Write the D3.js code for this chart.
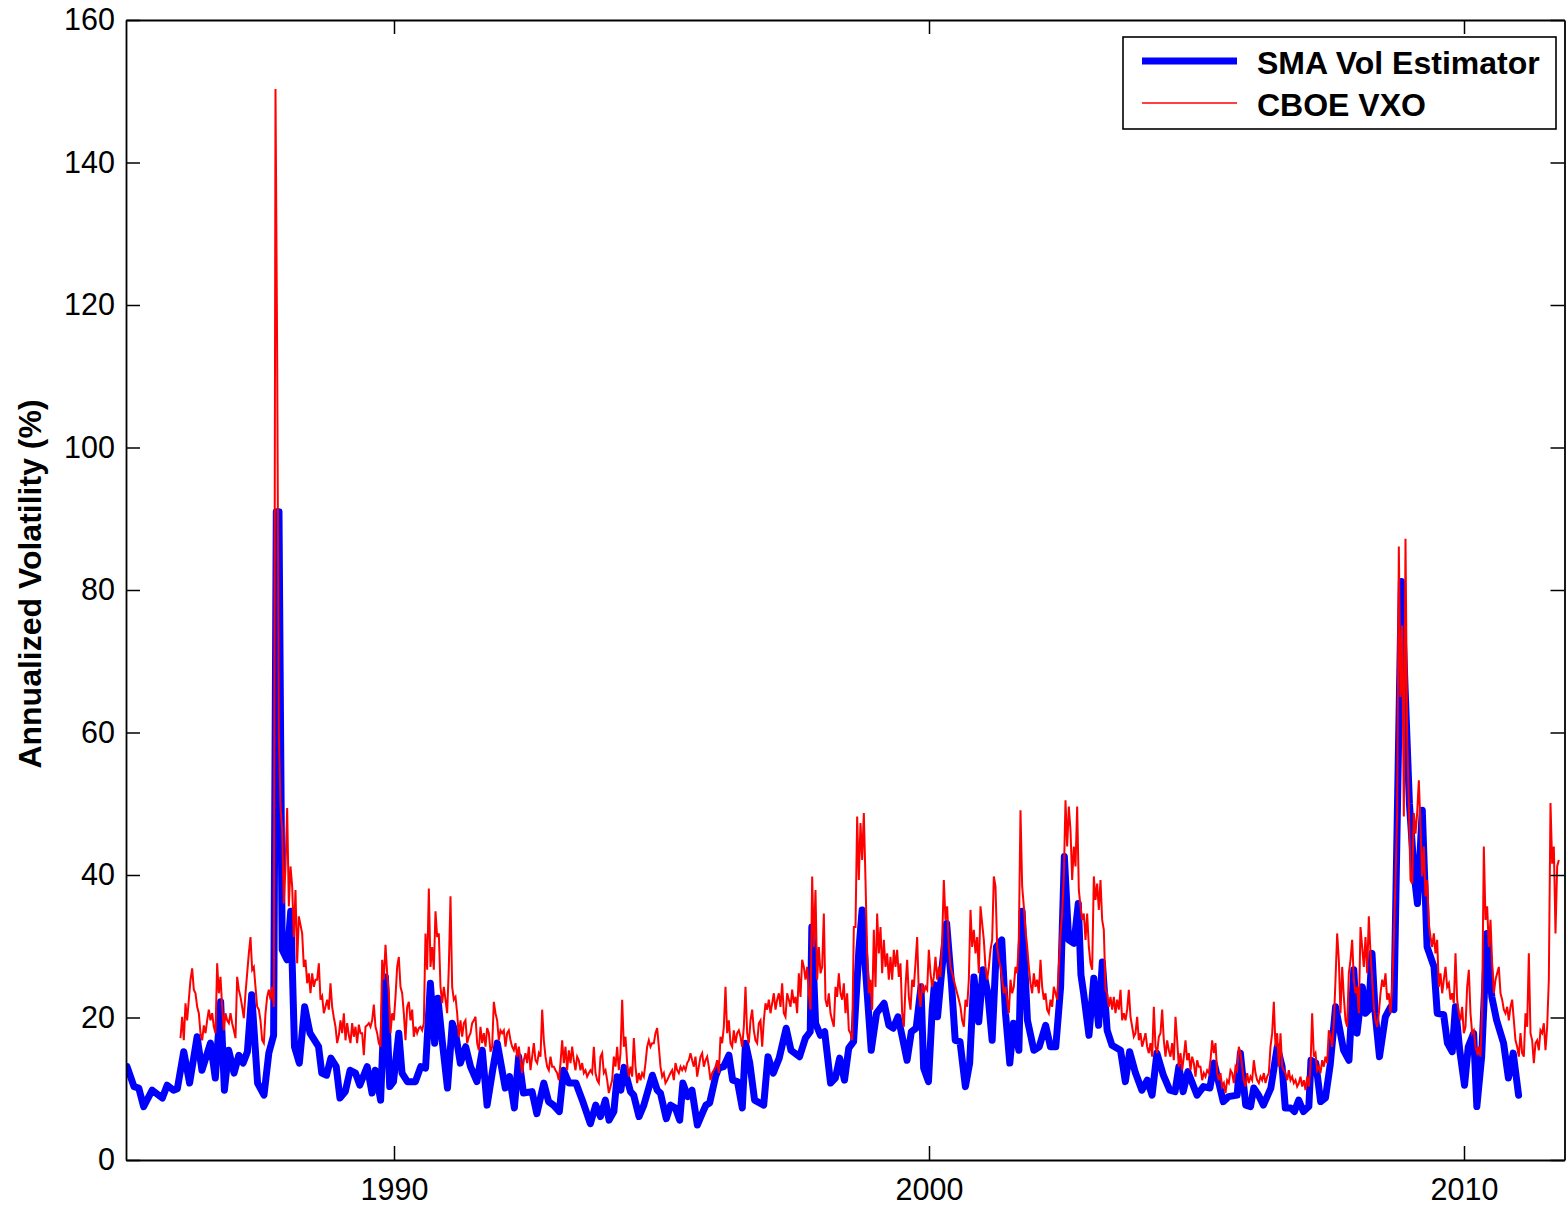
<!DOCTYPE html>
<html>
<head>
<meta charset="utf-8">
<script src="https://cdn.jsdelivr.net/npm/d3@7"></script>
<style>
  html, body { margin: 0; padding: 0; background: #fff; }
  svg { display: block; }
  text { font-family: "Liberation Sans", Arial, Helvetica, sans-serif; }
</style>
</head>
<body>
<svg id="chart" width="1566" height="1205"></svg>
<script>
// ---------- DATA ----------
const seriesNames = ["SMA Vol Estimator", "CBOE VXO"];
const yTickValues = [0, 20, 40, 60, 80, 100, 120, 140, 160];
const xTickValues = [1990, 2000, 2010];
const xTickLabels = ["1990", "2000", "2010"];

// SMA volatility estimator (decimal year, annualized vol %)
const smaYears = [
  1985.01,1985.14,1985.23,1985.32,1985.48,1985.67,1985.76,1985.88,1985.95,
  1986.07,1986.18,1986.32,1986.41,1986.57,1986.66,1986.76,1986.83,1986.91,
  1987.01,1987.10,1987.18,1987.26,1987.34,1987.45,1987.57,1987.66,1987.75,1987.80,1987.85,1987.91,
  1988.00,1988.07,1988.14,1988.23,1988.33,1988.43,1988.59,1988.65,1988.74,1988.82,1988.92,1988.99,
  1989.09,1989.18,1989.28,1989.36,1989.50,1989.59,1989.65,1989.75,1989.84,1989.92,1989.99,
  1990.09,1990.15,1990.25,1990.40,1990.50,1990.59,1990.68,1990.76,1990.82,1990.90,
  1991.00,1991.09,1991.15,1991.24,1991.34,1991.43,1991.55,1991.65,1991.74,1991.84,1991.93,
  1992.08,1992.16,1992.25,1992.33,1992.42,1992.58,1992.67,1992.80,1992.89,1992.98,
  1993.09,1993.17,1993.27,1993.40,1993.52,1993.67,1993.77,1993.86,1993.95,
  1994.02,1994.11,1994.17,1994.24,1994.30,1994.42,1994.48,1994.58,1994.67,1994.83,1994.92,1994.98,
  1995.09,1995.17,1995.26,1995.34,1995.40,1995.49,1995.57,1995.67,1995.76,1995.83,1995.90,
  1996.01,1996.07,1996.16,1996.26,1996.33,1996.42,1996.51,1996.57,1996.65,1996.74,1996.91,1996.99,
  1997.09,1997.20,1997.33,1997.42,1997.58,1997.69,1997.78,1997.81,1997.88,1997.97,
  1998.05,1998.16,1998.25,1998.33,1998.42,1998.50,1998.59,1998.69,1998.75,1998.81,1998.92,
  1999.02,1999.16,1999.25,1999.33,1999.42,1999.50,1999.59,1999.67,1999.76,1999.85,1999.90,1999.99,
  2000.06,2000.10,2000.16,2000.24,2000.33,2000.42,2000.49,2000.58,2000.68,2000.76,2000.84,2000.93,
  2001.01,2001.10,2001.18,2001.26,2001.36,2001.43,2001.51,2001.58,2001.68,2001.74,2001.84,2001.96,
  2002.06,2002.18,2002.27,2002.37,2002.46,2002.53,2002.61,2002.71,2002.79,2002.84,2002.89,2002.99,
  2003.08,2003.17,2003.24,2003.33,2003.42,2003.58,2003.67,2003.75,2003.86,2003.98,
  2004.08,2004.17,2004.26,2004.38,2004.50,2004.60,2004.67,2004.75,2004.84,
  2005.01,2005.13,2005.25,2005.33,2005.39,2005.50,2005.60,2005.76,2005.82,2005.92,
  2006.01,2006.07,2006.16,2006.25,2006.39,2006.51,2006.60,2006.66,2006.76,2006.83,2006.91,
  2007.00,2007.10,2007.14,2007.23,2007.32,2007.41,2007.50,2007.60,2007.69,2007.75,2007.85,2007.94,
  2008.00,2008.10,2008.16,2008.22,2008.28,2008.34,2008.42,2008.53,2008.63,2008.69,2008.83,2008.90,2008.98,
  2009.07,2009.13,2009.22,2009.31,2009.44,2009.50,2009.62,2009.69,2009.78,2009.84,2009.92,
  2010.01,2010.08,2010.18,2010.24,2010.33,2010.43,2010.52,2010.61,2010.74,2010.83,2010.92,2011.02
];
const smaValues = [
  13.1,10.3,10.1,7.5,9.8,8.7,10.5,9.8,10.0,
  15.2,10.8,17.3,12.6,16.4,11.5,22.2,9.8,15.4,
  12.2,14.7,13.6,15.2,23.2,10.8,9.1,15.0,17.5,91.0,91.0,29.5,
  28.1,34.9,15.9,13.6,21.5,17.8,15.9,12.2,11.9,14.3,13.1,8.7,
  9.6,12.6,12.2,10.5,13.1,9.4,12.6,8.4,25.7,10.3,11.0,
  17.8,12.2,11.0,11.0,13.1,12.9,24.8,16.4,22.7,16.8,
  10.1,19.2,17.8,13.6,15.9,13.1,11.0,15.4,7.7,12.4,16.4,
  10.1,11.7,7.3,14.5,9.4,9.6,6.5,10.8,8.2,7.7,
  6.8,12.6,10.8,10.8,8.4,5.1,7.7,6.1,8.4,
  5.6,6.8,11.7,9.8,13.0,9.6,9.1,6.1,7.7,11.9,9.8,9.4,
  5.8,7.7,7.3,5.6,10.8,8.9,9.8,4.9,6.5,7.7,8.0,
  11.7,12.9,13.1,14.7,11.2,11.0,7.3,16.4,13.6,8.4,7.7,14.5,
  12.2,14.3,18.5,15.4,14.5,17.1,18.0,32.7,19.2,17.5,
  18.0,10.8,11.5,14.3,11.2,15.7,16.6,29.5,35.1,27.1,15.4,
  20.6,22.0,18.9,18.5,20.1,17.3,14.0,18.0,18.5,24.3,12.9,11.0,
  21.1,24.6,20.1,26.7,33.2,24.8,16.8,16.6,10.3,13.6,25.7,19.4,
  26.7,23.4,16.8,29.9,30.9,20.6,13.6,19.2,15.4,34.9,19.6,15.4,
  15.9,18.9,15.9,15.9,24.3,42.6,30.9,30.4,36.0,26.0,23.4,17.5,
  25.5,18.9,27.8,18.2,16.1,15.4,11.0,15.2,12.2,9.8,
  11.2,9.1,15.0,11.9,9.8,9.6,13.1,9.6,12.4,
  9.1,10.3,10.1,13.6,11.7,8.2,8.9,9.1,15.0,7.7,
  7.5,10.1,9.1,7.7,10.1,15.9,13.1,7.3,7.3,6.8,8.4,
  6.8,7.5,14.0,13.6,8.2,8.7,13.4,21.5,17.8,15.4,14.0,26.7,
  17.8,24.3,20.6,21.1,29.0,20.6,14.5,20.1,21.5,21.1,81.2,66.0,50.0,
  40.0,36.0,49.1,29.9,27.1,20.6,20.4,16.4,15.2,21.5,15.4,
  10.5,15.9,17.8,7.5,14.5,31.8,22.9,19.6,16.4,11.5,15.0,9.1
];

// CBOE VXO, sampled about every 11 days from early 1986
const vxoStart = 1986.0093;
const vxoStep = 0.0311526;
const vxoValues = [
  // 1986 - 1989.4
  17.1,20.1,16.8,22.0,19.6,22.5,25.3,26.9,23.9,23.4,
  21.5,20.6,17.8,16.8,18.9,17.8,19.6,21.1,19.6,20.6,
  18.7,17.8,27.6,23.4,25.7,21.5,18.2,20.6,19.6,19.2,
  20.6,19.2,18.2,17.1,25.7,23.9,22.9,21.5,19.9,23.4,
  26.2,29.0,31.3,26.7,27.1,24.3,21.5,21.1,19.6,16.8,
  16.4,20.6,22.9,23.9,22.5,24.3,21.5,150.3,113.0,60.0,
  49.6,46.3,36.0,41.2,49.4,35.6,41.2,38.4,31.3,37.9,
  27.6,34.2,33.0,31.8,27.1,28.1,24.8,26.2,23.4,26.2,
  24.3,25.3,25.3,27.6,22.5,23.0,20.6,21.5,22.5,21.1,
  24.8,21.5,20.0,18.7,16.4,17.5,19.6,17.8,20.6,16.8,
  19.2,17.5,16.4,19.2,17.3,18.7,16.4,19.0,17.8,17.8,
  14.7,18.7,18.9,19.2,
  // 1989.4 - 1993.9
  18.7,19.6,21.8,18.7,17.8,16.4,15.9,28.1,25.3,30.2,
  26.2,23.4,17.8,20.6,19.6,22.9,27.1,28.5,24.3,23.4,
  20.6,16.8,21.5,22.2,19.6,21.1,17.3,18.7,17.8,18.5,
  18.7,18.2,19.2,31.8,26.7,38.1,27.1,29.9,26.7,34.9,
  31.3,31.8,24.3,22.0,24.3,22.5,20.6,27.1,37.0,24.3,
  22.5,22.9,20.6,17.3,19.6,17.3,19.2,19.6,16.4,17.3,
  17.8,19.2,19.6,20.1,16.4,15.4,18.7,16.4,17.8,15.9,
  18.5,17.8,15.2,15.9,22.2,20.6,19.6,16.8,18.2,17.8,
  18.2,15.9,17.8,18.2,16.8,15.9,15.4,16.4,14.5,15.9,
  14.0,12.2,14.0,15.0,13.6,15.9,12.6,14.5,16.4,14.0,
  13.6,15.0,14.5,21.1,16.8,14.5,13.1,12.6,14.5,13.1,
  13.1,12.6,12.2,11.2,13.6,16.8,13.6,15.9,12.6,15.4,
  13.6,15.9,14.0,12.6,14.5,14.0,12.6,13.6,12.2,12.6,
  11.7,12.2,12.6,12.2,15.9,12.2,11.2,10.8,14.5,15.0,
  12.2,12.6,11.2,9.4,
  // 1993.9 - 1998.4
  10.3,11.2,14.5,13.1,15.9,12.6,15.0,22.5,15.9,17.3,
  13.6,11.7,13.1,11.7,17.1,13.1,10.8,12.2,11.2,12.2,
  11.7,13.6,15.9,16.8,15.9,16.4,16.4,17.8,18.5,15.9,
  13.1,11.7,12.2,10.8,11.2,11.7,12.2,12.6,11.2,13.6,
  12.6,12.2,13.1,12.6,13.1,12.6,13.6,14.0,15.0,14.0,
  13.1,14.5,11.7,13.1,14.5,15.0,13.1,14.0,14.5,13.1,
  11.2,12.2,12.6,13.1,14.0,12.2,17.3,16.4,18.7,24.3,
  17.8,19.6,16.4,15.9,18.2,16.4,17.8,18.2,17.3,15.9,
  18.7,24.3,17.8,16.4,19.6,21.1,18.2,16.8,16.4,19.2,
  19.6,15.9,19.6,22.0,21.1,22.5,20.6,22.0,23.4,21.1,
  22.5,23.4,21.5,24.8,20.6,20.1,23.4,22.5,21.5,23.9,
  22.0,22.9,20.6,26.2,22.9,28.1,27.1,25.3,27.1,23.4,
  21.1,39.8,29.9,37.9,25.3,29.9,26.2,27.1,34.6,22.5,
  21.5,23.4,20.6,19.6,18.7,24.3,22.9,26.2,23.4,22.5,
  24.8,20.6,23.4,18.2,
  // 1998.4 - 2002.9
  17.8,16.8,32.7,32.7,48.2,39.3,47.3,42.1,48.7,39.3,
  29.0,23.4,25.3,21.1,32.3,24.3,34.6,29.0,32.7,26.2,
  30.9,27.1,29.0,25.3,28.5,25.3,29.5,27.1,29.5,25.7,
  27.6,20.6,18.7,24.3,28.1,22.9,21.1,25.3,24.3,27.6,
  31.3,23.4,21.5,24.8,23.4,24.3,23.9,29.5,26.2,24.3,
  25.7,28.5,25.3,27.1,25.7,30.9,39.3,33.7,35.6,29.9,
  27.1,26.2,25.3,24.3,23.4,22.5,21.5,19.6,18.7,22.5,
  21.5,25.3,35.1,29.9,32.3,29.0,31.3,26.2,35.6,33.2,
  30.9,27.1,25.3,27.1,29.5,30.9,39.8,38.4,29.9,28.1,
  27.1,25.3,23.4,24.3,22.5,20.6,25.3,23.4,24.3,27.1,
  26.2,30.9,49.1,38.4,35.6,32.3,29.9,27.1,24.8,23.4,
  26.2,24.3,25.3,23.4,28.1,24.3,22.5,23.4,21.1,20.6,
  22.5,21.5,24.3,23.4,22.5,27.1,31.8,34.6,39.8,50.5,
  44.0,49.6,46.3,39.3,44.0,41.2,49.6,37.9,35.6,33.7,
  34.6,30.9,34.6,29.9,
  // 2002.9 - 2007.4
  27.6,26.7,39.8,36.5,38.8,35.1,39.3,33.7,32.3,23.9,
  23.4,21.5,22.9,21.1,22.9,20.6,22.5,21.1,23.9,19.6,
  20.6,19.6,21.1,23.9,20.1,18.7,17.3,17.8,20.1,16.8,
  17.8,15.9,16.8,17.8,15.9,15.0,16.4,14.5,21.5,15.9,
  15.0,17.3,17.8,21.1,16.8,14.5,16.8,15.4,14.5,16.4,
  14.0,20.1,16.8,13.1,15.0,12.6,14.5,16.8,14.0,15.0,
  12.6,14.5,13.6,11.7,14.0,13.1,13.1,11.2,12.2,11.7,
  12.6,12.2,14.0,16.8,15.0,16.4,12.2,11.2,12.2,10.3,
  10.8,9.4,11.2,10.8,12.6,12.2,10.8,13.1,12.6,15.9,
  15.0,13.1,11.2,10.3,12.2,10.8,11.7,11.2,14.0,12.2,
  11.2,10.8,11.7,11.2,12.2,10.8,11.7,12.2,15.9,17.8,
  22.2,15.9,17.8,13.1,17.8,13.1,12.6,12.2,11.2,12.6,
  11.2,11.7,10.8,11.2,10.3,10.8,11.7,10.3,11.2,9.8,
  11.7,10.3,13.1,20.6,14.5,15.0,12.6,13.1,12.2,14.0,
  13.1,14.5,13.6,18.2,
  // 2007.4 - 2011.8
  17.3,15.9,19.2,25.3,31.8,28.1,20.6,27.1,22.9,19.6,
  18.7,26.2,28.1,30.9,25.3,23.4,24.3,20.6,32.7,29.9,
  27.1,31.3,26.2,34.2,29.0,25.3,21.5,19.6,18.7,20.6,
  23.4,25.3,24.3,26.2,22.5,23.4,20.6,24.3,30.9,39.3,
  48.7,86.1,65.0,75.0,48.2,87.2,59.4,50.0,39.3,38.8,
  48.7,45.8,48.7,53.3,46.8,39.8,44.0,37.0,39.3,33.2,
  31.3,29.9,31.8,29.0,30.9,24.3,26.2,23.4,25.3,27.1,
  24.3,24.8,22.5,23.4,22.0,29.0,22.5,20.6,19.6,21.5,
  17.8,18.7,24.3,26.7,20.6,17.8,18.2,15.9,15.0,15.9,
  14.5,21.5,44.0,33.7,35.6,29.9,33.7,27.6,23.4,25.3,
  26.2,27.1,23.4,22.5,21.1,20.6,21.5,19.6,21.5,22.5,
  19.6,16.8,15.9,14.5,17.8,15.0,14.5,20.6,18.7,29.0,
  17.8,16.8,13.6,16.4,16.8,15.4,18.2,17.8,19.2,15.4,
  18.7,25.3,50.1,41.6,44.0,31.8,41.2,42.1
];

// ---------- CHART ----------
const plot = { left: 126, right: 1564.5, top: 20, bottom: 1160 };

const svg = d3.select("#chart");

const x = d3.scaleLinear().domain([1984.9907, 2011.8785]).range([plot.left, plot.right]);
const y = d3.scaleLinear().domain([0, 160]).range([plot.bottom, plot.top]);

svg.append("defs").append("clipPath").attr("id", "clip")
  .append("rect")
  .attr("x", plot.left).attr("y", plot.top)
  .attr("width", plot.right - plot.left).attr("height", plot.bottom - plot.top);

const smaData = smaYears.map((t, i) => ({ t, v: smaValues[i] }));
const vxoData = vxoValues.map((v, i) => ({ t: vxoStart + i * vxoStep, v }));

const line = d3.line().x(d => x(d.t)).y(d => y(d.v));

const g = svg.append("g").attr("clip-path", "url(#clip)");
g.append("path").datum(smaData)
  .attr("d", line)
  .attr("fill", "none")
  .attr("stroke", "#0000ff")
  .attr("stroke-width", 7)
  .attr("stroke-linejoin", "round")
  .attr("stroke-linecap", "round");
g.append("path").datum(vxoData)
  .attr("d", line)
  .attr("fill", "none")
  .attr("stroke", "#ff0000")
  .attr("stroke-width", 2)
  .attr("stroke-linejoin", "miter")
  .attr("stroke-miterlimit", 4);

// Axes (ticks inward on all four sides)
const tickLen = 14;
const fontSize = 30.5;

const axB = svg.append("g").attr("transform", `translate(0,${plot.bottom})`)
  .call(d3.axisBottom(x).tickValues(xTickValues).tickFormat((d, i) => xTickLabels[i])
    .tickSizeInner(-tickLen).tickSizeOuter(0).tickPadding(18));
const axT = svg.append("g").attr("transform", `translate(0,${plot.top})`)
  .call(d3.axisTop(x).tickValues(xTickValues).tickFormat("")
    .tickSizeInner(-tickLen).tickSizeOuter(0));
const axL = svg.append("g").attr("transform", `translate(${plot.left},0)`)
  .call(d3.axisLeft(y).tickValues(yTickValues).tickFormat(d3.format("d"))
    .tickSizeInner(-tickLen).tickSizeOuter(0).tickPadding(11));
const axR = svg.append("g").attr("transform", `translate(${plot.right},0)`)
  .call(d3.axisRight(y).tickValues(yTickValues).tickFormat("")
    .tickSizeInner(-tickLen).tickSizeOuter(0));

[axB, axT, axL, axR].forEach(a => {
  a.selectAll(".domain").attr("stroke", "#000").attr("stroke-width", 1.8);
  a.selectAll(".tick line").attr("stroke", "#000").attr("stroke-width", 1.5);
  a.selectAll("text")
    .attr("fill", "#000")
    .style("font-family", '"Liberation Sans", Arial, Helvetica, sans-serif')
    .style("font-size", fontSize + "px");
});

// Y axis title
svg.append("text")
  .attr("transform", `translate(41,584) rotate(-90)`)
  .attr("text-anchor", "middle")
  .style("font-size", "32px")
  .style("font-weight", "bold")
  .attr("fill", "#000")
  .text("Annualized Volatility (%)");

// Legend
const lg = svg.append("g");
lg.append("rect")
  .attr("x", 1123).attr("y", 37).attr("width", 433).attr("height", 92)
  .attr("fill", "#fff").attr("stroke", "#000").attr("stroke-width", 1.6);
const legendItems = [
  { name: seriesNames[0], color: "#0000ff", width: 7, ly: 61, ty: 73.5 },
  { name: seriesNames[1], color: "#ff0000", width: 1.5, ly: 103, ty: 116 }
];
legendItems.forEach(it => {
  lg.append("line")
    .attr("x1", 1142).attr("x2", 1237).attr("y1", it.ly).attr("y2", it.ly)
    .attr("stroke", it.color).attr("stroke-width", it.width);
  lg.append("text")
    .attr("x", 1257).attr("y", it.ty)
    .style("font-size", "32px").style("font-weight", "bold")
    .attr("fill", "#000")
    .text(it.name);
});
</script>
</body>
</html>
